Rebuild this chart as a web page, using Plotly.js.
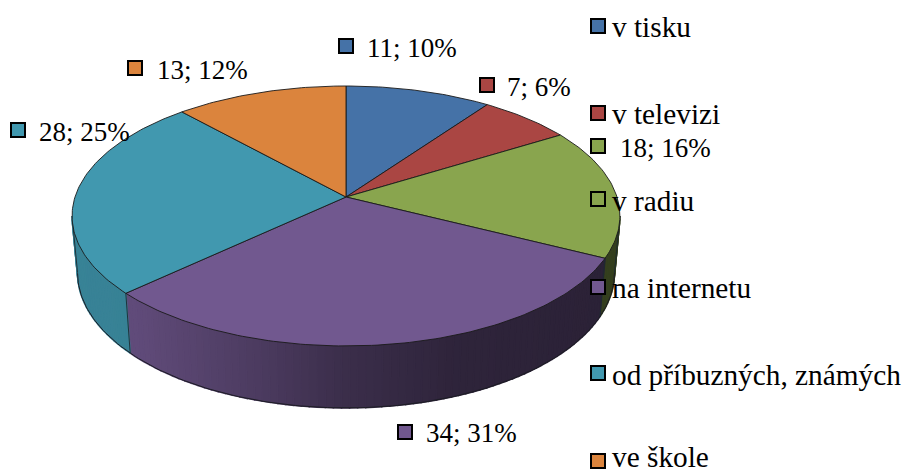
<!DOCTYPE html>
<html><head><meta charset="utf-8">
<script src="https://cdn.plot.ly/plotly-3.0.1.min.js"></script>
<style>html,body{margin:0;padding:0;background:#fff}#c{width:903px;height:473px}</style>
</head><body><div id="c"></div>
<script>
const categories = ["v tisku","v televizi","v radiu","na internetu","od příbuzných, známých","ve škole"];
const values = [11,7,18,34,28,13];
const colors = ["#4572A7","#AA4643","#89A54E","#71588F","#4198AF","#DB843D"];

// layout of the drawing (pixels of the 903x473 page)
const legendKeyX = 598, legendTextX = 609.5, legendY = [26,113,199,287,373,461];
const legendTextY = [27,114,201,288,375,456.5];
const labelKeyX = [346,487,598,405,18,135], labelKeyY = [46,85,146,432,130,68];
const labelTextX = [365,505,618,424,37,155], labelTextY = [48,87,148,433,132,70];
const FONT = 'Liberation Serif', FS_LEGEND = 29.3, FS_LABEL = 27;

// perspective pie
const cx=346, cy=197, a=271, b=127.2, p=0.146;
const botSx=0.98, botSy=1.04, botCy=253;
function topPt(t){const r=t*Math.PI/180,d=1+p*Math.cos(r);return [cx+a*Math.sin(r)/d, cy-b*Math.cos(r)/d];}
function botPt(t){const q=topPt(t);return [cx+botSx*(q[0]-cx), botCy+botSy*(q[1]-cy)];}

const total=values.reduce((s,v)=>s+v,0);
let cum=0; const slices=values.map(v=>{const s=cum/total*360;cum+=v;return [s,cum/total*360];});

function rgb(h){return [1,3,5].map(i=>parseInt(h.substr(i,2),16));}
const shadeStops=[[-1,0.86],[-0.78,0.85],[-0.4,0.70],[0,0.52],[0.4,0.41],[1,0.38]];
function shade(u){const n=(u-cx)/a;for(let i=1;i<shadeStops.length;i++){if(n<=shadeStops[i][0]){const A=shadeStops[i-1],B=shadeStops[i];return A[1]+(B[1]-A[1])*(n-A[0])/(B[0]-A[0]);}}return shadeStops[shadeStops.length-1][1];}

const traces=[];
const edge=Math.asin(p)*180/Math.PI, tR=90+edge, tL=270-edge;
// side walls
slices.forEach((s,i)=>{
  const s0=Math.max(s[0],tR), s1=Math.min(s[1],tL);
  if(s1<=s0) return;
  const n=Math.ceil((s1-s0)/1.5), c=rgb(colors[i]);
  for(let k=0;k<n;k++){
    const t0=s0+(s1-s0)*k/n,t1=s0+(s1-s0)*(k+1)/n;
    const P=[topPt(t0),topPt(t1),botPt(t1),botPt(t0),topPt(t0)];
    const f=shade(topPt((t0+t1)/2)[0]);
    const col=`rgb(${c.map(v=>Math.round(v*f)).join(",")})`;
    traces.push({type:"scatter",mode:"lines",x:P.map(q=>q[0]),y:P.map(q=>q[1]),fill:"toself",fillcolor:col,line:{color:col,width:1.6},hoverinfo:"skip",showlegend:false});
  }
});
// wall outlines
function arcLine(fn,t0,t1){const X=[],Y=[];for(let t=t0;t<=t1+1e-6;t+=1){const q=fn(t);X.push(q[0]);Y.push(q[1]);}return [X,Y];}
const [bx,by]=arcLine(botPt,tR,tL);
traces.push({type:"scatter",mode:"lines",x:bx,y:by,line:{color:"#1c1c24",width:1},hoverinfo:"skip",showlegend:false});
[tR,tL].concat(slices.map(s=>s[1]).filter(t=>t>tR&&t<tL)).forEach(t=>{
  const A=topPt(t),B=botPt(t);
  traces.push({type:"scatter",mode:"lines",x:[A[0],B[0]],y:[A[1],B[1]],line:{color:"#1c2a30",width:0.9},hoverinfo:"skip",showlegend:false});
});
// top faces
slices.forEach((s,i)=>{
  const X=[cx],Y=[cy],n=Math.ceil((s[1]-s[0]));
  for(let k=0;k<=n;k++){const q=topPt(s[0]+(s[1]-s[0])*k/n);X.push(q[0]);Y.push(q[1]);}
  X.push(cx);Y.push(cy);
  traces.push({type:"scatter",mode:"lines",name:categories[i],x:X,y:Y,fill:"toself",fillcolor:colors[i],line:{color:"#1a1a1a",width:0.9},hoverinfo:"skip",showlegend:false});
});
// keys
const keyMarker={symbol:"square",size:14,line:{color:"#000",width:2}};
traces.push({type:"scatter",mode:"markers",x:labelKeyX,y:labelKeyY,marker:Object.assign({color:colors},keyMarker),hoverinfo:"skip",showlegend:false});
traces.push({type:"scatter",mode:"markers",x:legendY.map(()=>legendKeyX),y:legendY,marker:Object.assign({color:colors},keyMarker),hoverinfo:"skip",showlegend:false});

const annotations=[];
categories.forEach((c,i)=>annotations.push({x:legendTextX,y:legendTextY[i],text:c,showarrow:false,xanchor:"left",yanchor:"middle",xref:"x",yref:"y",font:{family:FONT,size:FS_LEGEND,color:"#000"}}));
values.forEach((v,i)=>annotations.push({x:labelTextX[i],y:labelTextY[i],text:v+"; "+Math.round(v/total*100)+"%",showarrow:false,xanchor:"left",yanchor:"middle",xref:"x",yref:"y",font:{family:FONT,size:FS_LABEL,color:"#000"}}));

Plotly.newPlot("c",traces,{
  width:903,height:473,margin:{l:0,r:0,t:0,b:0},paper_bgcolor:"#fff",plot_bgcolor:"#fff",showlegend:false,
  xaxis:{range:[0,903],visible:false,fixedrange:true},
  yaxis:{range:[473,0],visible:false,fixedrange:true},
  annotations
},{displayModeBar:false,staticPlot:true});
</script></body></html>
